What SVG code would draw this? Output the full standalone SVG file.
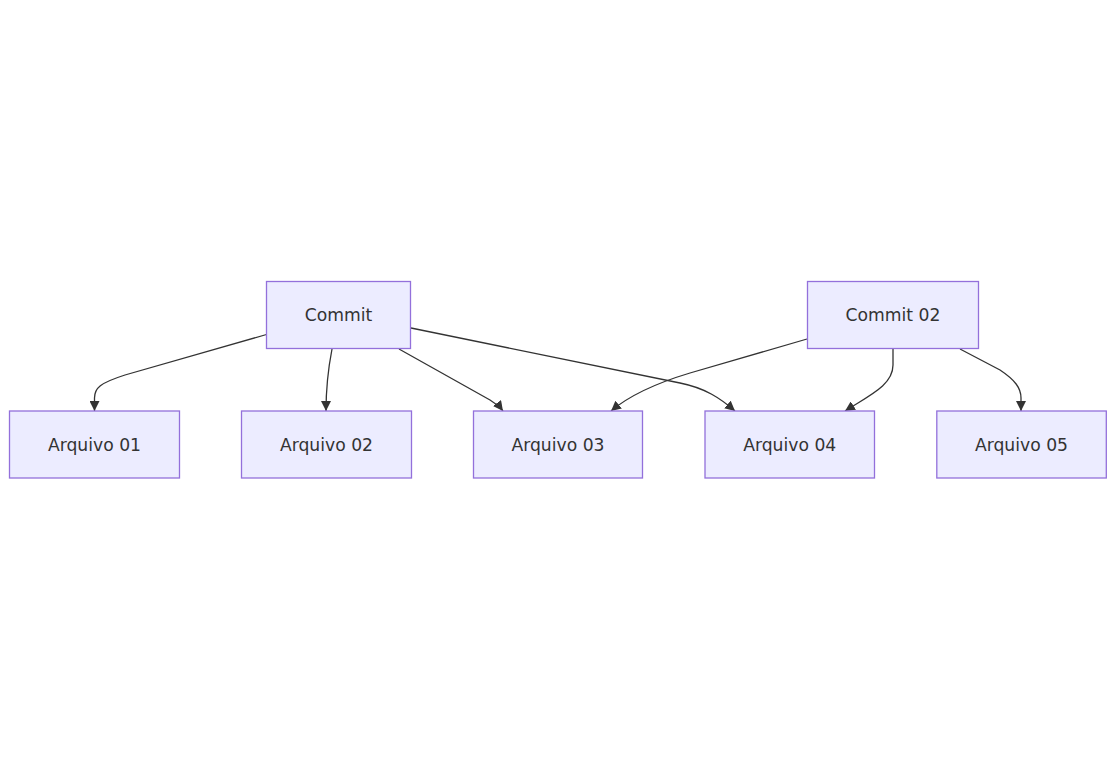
<svg xmlns="http://www.w3.org/2000/svg" width="1116" height="760" viewBox="0 0 1116 760">
<style>
.node rect{fill:#ECECFF;stroke:#9370DB;stroke-width:1.3}
.node text{font-family:"DejaVu Sans",Verdana,sans-serif;font-size:17.2px;fill:#333;text-anchor:middle}
.edges path{fill:none;stroke:#333;stroke-width:1.3;marker-end:url(#arrow)}
</style>
<defs>
<marker id="arrow" viewBox="0 0 10 10" refX="10" refY="5" markerWidth="10" markerHeight="10" markerUnits="userSpaceOnUse" orient="auto">
<path d="M0,0 L10,5 L0,10 z" fill="#333"/>
</marker>
</defs>
<rect width="1116" height="760" fill="#fff"/>
<g class="edges">
<path d="M266.5,334.5 L125,375 C100,383 94.5,388 94.5,398 L94.5,411"/>
<path d="M332,349 C327,375 326,390 326,411"/>
<path d="M399,349 L490,400 C496,404 500,407 503,411"/>
<path d="M411,328 L680,383 C705,388 720,398 735,411"/>
<path d="M807,339 L690,373 C660,382 630,395 611,411"/>
<path d="M893,349 L893,365 C893,385 870,395 845,411"/>
<path d="M960,349 L1000,370 C1015,380 1021,388 1021,398 L1021,411"/>
</g>
<g id="commit" class="node"><rect x="266.5" y="281.5" width="144" height="67"/><text x="338.5" y="321">Commit</text></g>
<g id="commit02" class="node"><rect x="807.5" y="281.5" width="171" height="67"/><text x="893" y="321">Commit 02</text></g>
<g id="arquivo01" class="node"><rect x="9.5" y="411" width="170" height="67"/><text x="94.5" y="450.5">Arquivo 01</text></g>
<g id="arquivo02" class="node"><rect x="241.5" y="411" width="170" height="67"/><text x="326.5" y="450.5">Arquivo 02</text></g>
<g id="arquivo03" class="node"><rect x="473.5" y="411" width="169" height="67"/><text x="558" y="450.5">Arquivo 03</text></g>
<g id="arquivo04" class="node"><rect x="705" y="411" width="169.5" height="67"/><text x="789.7" y="450.5">Arquivo 04</text></g>
<g id="arquivo05" class="node"><rect x="936.8" y="411" width="169.5" height="67"/><text x="1021.5" y="450.5">Arquivo 05</text></g>
</svg>
